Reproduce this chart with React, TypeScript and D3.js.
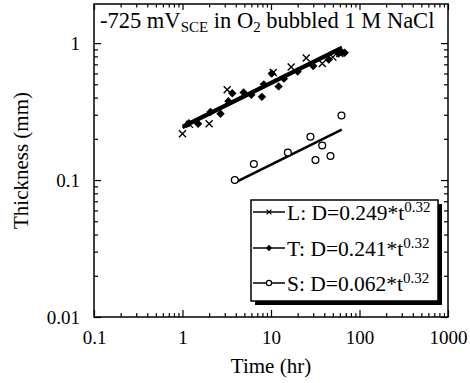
import { useEffect, useRef } from "react";
import * as d3 from "d3";

// time (hr) and thickness (mm)
const lTime = [1.0, 1.2, 2.0, 3.2, 10.6, 16.9, 25, 38, 50, 60];
const lThick = [0.218, 0.255, 0.258, 0.456, 0.61, 0.67, 0.78, 0.71, 0.79, 0.84];

const tTime = [1.18, 1.5, 2.07, 2.69, 3.3, 3.65, 4.9, 6.0, 7.9, 8.3, 10.2, 12.2, 14, 20, 30, 45, 58, 63, 68];
const tThick = [0.26, 0.258, 0.314, 0.305, 0.376, 0.43, 0.436, 0.42, 0.405, 0.5, 0.6, 0.483, 0.55, 0.62, 0.68, 0.76, 0.84, 0.86, 0.85];

const sTime = [3.9, 6.4, 15.5, 27.9, 31.8, 37.9, 47, 62.6];
const sThick = [0.1, 0.131, 0.159, 0.207, 0.14, 0.179, 0.15, 0.296];

// power-law fits D = a * t^b
const fitNames = ["L", "T", "S"];
const fitCoef = [0.249, 0.241, 0.062];
const fitExp = 0.32;
const fitStart = [1, 1, 4];
const fitEnd = [63, 63, 63];

const xMajor = [0.1, 1, 10, 100, 1000];
const yMajor = [0.01, 0.1, 1];

const W = 470;
const H = 383;
const FONT = "'Liberation Serif', 'Times New Roman', serif";

export default function App() {
  const ref = useRef<SVGSVGElement>(null);

  useEffect(() => {
    const svg = d3.select(ref.current);
    svg.selectAll("*").remove();

    const left = 94, right = 448, top = 4, bottom = 317;
    const x = d3.scaleLog().domain([0.1, 1000]).range([left, right]);
    const y = d3.scaleLog().domain([0.01, 1.93]).range([bottom, top]);

    const xMinor = x.ticks().filter(d => !xMajor.some(m => Math.abs(m - d) < 1e-9));
    const yMinor = y.ticks().filter(d => !yMajor.some(m => Math.abs(m - d) < 1e-9));

    // axes, ticks pointing inward on all four sides
    const fmt = (d: any) => String(d);
    const addAxis = (axis: any, tx: number, ty: number, labels: boolean) => {
      const g = svg.append("g").attr("transform", `translate(${tx},${ty})`).call(axis);
      g.select(".domain").remove();
      g.selectAll("line").attr("stroke", "#000").attr("stroke-width", 1.2);
      g.selectAll("text")
        .attr("font-family", FONT)
        .attr("font-size", 19)
        .attr("fill", "#000");
      if (!labels) g.selectAll("text").remove();
    };

    addAxis(d3.axisBottom(x).tickValues(xMajor).tickSize(-7).tickPadding(14).tickFormat(fmt), 0, bottom, true);
    addAxis(d3.axisBottom(x).tickValues(xMinor).tickSize(-4).tickFormat(() => ""), 0, bottom, false);
    addAxis(d3.axisTop(x).tickValues(xMajor).tickSize(-6).tickFormat(() => ""), 0, top, false);
    addAxis(d3.axisTop(x).tickValues(xMinor).tickSize(-3.5).tickFormat(() => ""), 0, top, false);
    addAxis(d3.axisLeft(y).tickValues(yMajor).tickSize(-7).tickPadding(14).tickFormat(fmt), left, 0, true);
    addAxis(d3.axisLeft(y).tickValues(yMinor).tickSize(-4).tickFormat(() => ""), left, 0, false);
    addAxis(d3.axisRight(y).tickValues(yMajor).tickSize(-7).tickFormat(() => ""), right, 0, false);
    addAxis(d3.axisRight(y).tickValues(yMinor).tickSize(-4).tickFormat(() => ""), right, 0, false);

    svg.append("rect")
      .attr("x", left).attr("y", top)
      .attr("width", right - left).attr("height", bottom - top)
      .attr("fill", "none").attr("stroke", "#000").attr("stroke-width", 1.5);

    // axis titles
    svg.append("text")
      .attr("x", (left + right) / 2).attr("y", 373)
      .attr("text-anchor", "middle").attr("fill", "#000")
      .attr("font-family", FONT).attr("font-size", 21)
      .text("Time (hr)");
    svg.append("text")
      .attr("transform", `translate(28,${(top + bottom) / 2}) rotate(-90)`)
      .attr("text-anchor", "middle").attr("fill", "#000")
      .attr("font-family", FONT).attr("font-size", 21)
      .text("Thickness (mm)");

    // title with subscripts
    const title = svg.append("text")
      .attr("x", 100).attr("y", 28).attr("fill", "#000")
      .attr("font-family", FONT).attr("font-size", 22.5);
    title.append("tspan").text("-725 mV");
    title.append("tspan").attr("dy", 4).attr("font-size", 15).text("SCE");
    title.append("tspan").attr("dy", -4).text(" in O");
    title.append("tspan").attr("dy", 4).attr("font-size", 15).text("2");
    title.append("tspan").attr("dy", -4).text(" bubbled 1 M NaCl");

    // fit lines
    const line = d3.line<number>().x(t => x(t));
    fitCoef.forEach((a, i) => {
      svg.append("path")
        .attr("d", line.y(t => y(a * Math.pow(t, fitExp)))([fitStart[i], fitEnd[i]]))
        .attr("fill", "none").attr("stroke", "#000").attr("stroke-width", 2.6);
    });

    const cross = "M-3.5,-3.5L3.5,3.5M-3.5,3.5L3.5,-3.5";
    const diamond = "M0,-4.2L4.2,0L0,4.2L-4.2,0Z";

    svg.append("g").selectAll("path")
      .data(d3.zip(lTime, lThick))
      .join("path")
      .attr("transform", d => `translate(${x(d[0])},${y(d[1])})`)
      .attr("d", cross)
      .attr("stroke", "#000").attr("stroke-width", 1.4).attr("fill", "none");

    svg.append("g").selectAll("path")
      .data(d3.zip(tTime, tThick))
      .join("path")
      .attr("transform", d => `translate(${x(d[0])},${y(d[1])})`)
      .attr("d", diamond)
      .attr("fill", "#000");

    svg.append("g").selectAll("circle")
      .data(d3.zip(sTime, sThick))
      .join("circle")
      .attr("cx", d => x(d[0])).attr("cy", d => y(d[1]))
      .attr("r", 3.4)
      .attr("fill", "#fff").attr("stroke", "#000").attr("stroke-width", 1.3);

    // legend with drop shadow
    const lg = svg.append("g");
    lg.append("rect").attr("x", 255).attr("y", 204).attr("width", 187).attr("height", 101).attr("fill", "#000");
    lg.append("rect").attr("x", 251).attr("y", 200).attr("width", 187).attr("height", 101)
      .attr("fill", "#fff").attr("stroke", "#000").attr("stroke-width", 1.5);

    const rowY = [212, 248, 283];
    fitNames.forEach((name, i) => {
      const cy = rowY[i];
      lg.append("line").attr("x1", 253).attr("x2", 285).attr("y1", cy).attr("y2", cy)
        .attr("stroke", "#000").attr("stroke-width", 1.5);
      if (i === 0) {
        lg.append("path").attr("transform", `translate(269,${cy}) scale(0.7)`).attr("d", cross)
          .attr("stroke", "#000").attr("stroke-width", 1.6).attr("fill", "none");
      } else if (i === 1) {
        lg.append("path").attr("transform", `translate(269,${cy}) scale(0.75)`).attr("d", diamond).attr("fill", "#000");
      } else {
        lg.append("circle").attr("cx", 269).attr("cy", cy).attr("r", 2.6)
          .attr("fill", "#fff").attr("stroke", "#000").attr("stroke-width", 1.2);
      }
      const t = lg.append("text").attr("x", 287).attr("y", cy + 7.5).attr("fill", "#000")
        .attr("font-family", FONT).attr("font-size", 21.5);
      t.append("tspan").text(`${name}: D=${fitCoef[i].toFixed(3)}*t`);
      t.append("tspan").attr("dy", -8).attr("font-size", 15).text(String(fitExp));
    });
  }, []);

  return (
    <div>
      <svg ref={ref} width={W} height={H} style={{ position: "absolute", left: 0, top: 0, overflow: "visible" }} />
    </div>
  );
}
